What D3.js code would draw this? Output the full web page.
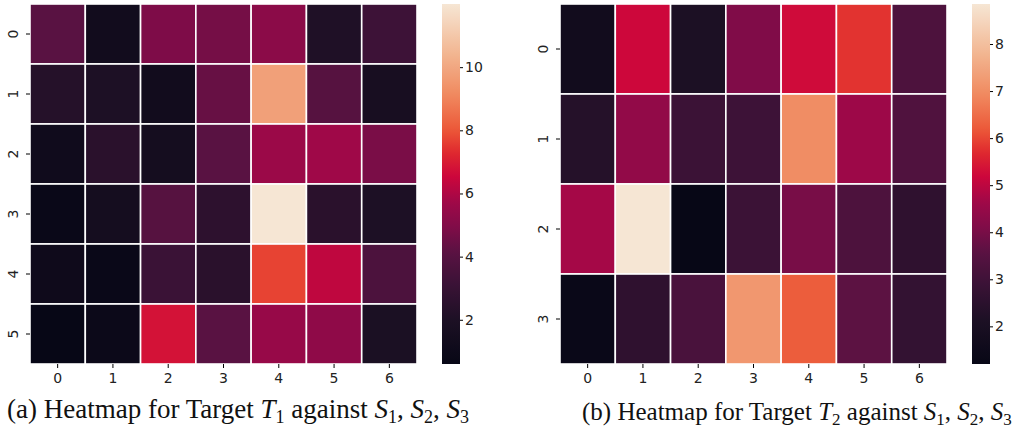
<!DOCTYPE html>
<head>
    <meta charset="utf-8"/>
    <script src="https://d3js.org/d3.v7.min.js"></script>
    <style>
        body { margin: 0; background: #fff; }
        text { font-family: "DejaVu Sans", sans-serif; }
        .cap { font-family: "Liberation Serif", "Times New Roman", serif; }
    </style>
</head>
<body>
<script>
    var width = 1019, height = 435;

    // rocket-like colormap
    var cmapPos = [0, 0.12, 0.22, 0.31, 0.38, 0.45, 0.52, 0.59, 0.65, 0.75, 0.86, 1];
    var cmapCol = ["#070716", "#1c1024", "#3a1236", "#5a1242", "#800c48", "#a00848",
        "#cc063c", "#e02a2e", "#ec5838", "#f08a60", "#f2b590", "#f6e6d4"];

    // panel (a): target T1, 6 rows x 7 cols
    var rowsA = ["0", "1", "2", "3", "4", "5"];
    var colsA = ["0", "1", "2", "3", "4", "5", "6"];
    var valuesA = [
        [4.1, 1.3, 4.9, 4.7, 5.2, 2.1, 3.2],
        [2.3, 2.0, 1.3, 4.4, 9.8, 4.0, 1.7],
        [1.2, 2.5, 1.5, 4.1, 5.6, 5.7, 4.8],
        [0.8, 1.5, 4.0, 2.6, 12.0, 2.5, 2.0],
        [1.1, 0.8, 3.1, 2.5, 7.7, 6.3, 3.7],
        [0.6, 0.9, 6.8, 4.1, 5.5, 5.3, 1.9]
    ];
    var ticksA = [2, 4, 6, 8, 10];

    // panel (b): target T2, 4 rows x 7 cols
    var rowsB = ["0", "1", "2", "3"];
    var colsB = ["0", "1", "2", "3", "4", "5", "6"];
    var valuesB = [
        [1.66, 5.2, 2.1, 4.1, 5.25, 5.8, 3.3],
        [2.35, 4.4, 2.9, 2.95, 7.0, 4.6, 3.35],
        [4.7, 8.85, 1.2, 2.9, 4.0, 3.3, 2.6],
        [1.35, 2.6, 3.2, 7.2, 6.25, 3.6, 2.7]
    ];
    var ticksB = [2, 3, 4, 5, 6, 7, 8];

    var svg = d3.select("body").append("svg")
        .attr("width", width)
        .attr("height", height);

    var defs = svg.append("defs");
    var interp = d3.scaleLinear().domain(cmapPos).range(cmapCol)
        .interpolate(d3.interpolateRgb).clamp(true);

    function heatmap(id, opts, rows, cols, values, ticks) {
        var g = svg.append("g");
        var flat = d3.merge(values);
        var color = d3.scaleSequential(interp).domain(d3.extent(flat));

        var x = d3.scaleBand().domain(cols).range([opts.x0, opts.x1]);
        var y = d3.scaleBand().domain(rows).range([opts.y0, opts.y1]);

        var cells = [];
        values.forEach(function (row, i) {
            row.forEach(function (v, j) {
                cells.push({r: rows[i], c: cols[j], v: v});
            });
        });

        g.selectAll("rect.cell").data(cells).join("rect")
            .attr("class", "cell")
            .attr("x", function (d) { return x(d.c); })
            .attr("y", function (d) { return y(d.r); })
            .attr("width", x.bandwidth())
            .attr("height", y.bandwidth())
            .attr("fill", function (d) { return color(d.v); })
            .attr("stroke", "#fff")
            .attr("stroke-width", 1.6);

        // x axis
        var xa = g.append("g").attr("transform", "translate(0," + opts.y1 + ")")
            .call(d3.axisBottom(x).tickSize(4).tickPadding(5));
        xa.select(".domain").remove();
        xa.selectAll("text").attr("font-size", 14).attr("fill", "#222")
            .style("font-family", "DejaVu Sans, sans-serif");

        // y axis, labels rotated
        var ya = g.append("g").attr("transform", "translate(" + opts.x0 + ",0)")
            .call(d3.axisLeft(y).tickSize(4).tickPadding(6));
        ya.select(".domain").remove();
        ya.selectAll("text").attr("font-size", 14).attr("fill", "#222")
            .style("font-family", "DejaVu Sans, sans-serif")
            .attr("text-anchor", "middle")
            .attr("dy", null)
            .attr("x", null)
            .attr("transform", "translate(-16,0) rotate(-90)")
            .attr("dominant-baseline", "middle");

        // colorbar
        var cb = d3.scaleLinear().domain(color.domain()).range([opts.y1, opts.y0]);
        var grad = defs.append("linearGradient").attr("id", id)
            .attr("x1", 0).attr("y1", 1).attr("x2", 0).attr("y2", 0);
        d3.range(0, 1.0001, 0.02).forEach(function (t) {
            grad.append("stop").attr("offset", t).attr("stop-color", interp(t));
        });
        g.append("rect")
            .attr("x", opts.cbx).attr("y", opts.y0)
            .attr("width", 18).attr("height", opts.y1 - opts.y0)
            .attr("fill", "url(#" + id + ")");
        var ca = g.append("g").attr("transform", "translate(" + (opts.cbx + 18) + ",0)")
            .call(d3.axisRight(cb).tickValues(ticks).tickSize(3).tickPadding(2));
        ca.select(".domain").remove();
        ca.selectAll("text").attr("font-size", 14).attr("fill", "#222")
            .style("font-family", "DejaVu Sans, sans-serif");

        // caption
        var fs = opts.capSize, sub = Math.round(fs * 0.68);
        var cap = svg.append("text").attr("class", "cap")
            .attr("x", opts.capx).attr("y", opts.capy)
            .attr("font-size", fs).attr("fill", "#111");
        cap.append("tspan").text(opts.label + " Heatmap for Target ");
        cap.append("tspan").attr("font-style", "italic").text("T");
        cap.append("tspan").attr("font-size", sub).attr("dy", 5).text(opts.t);
        cap.append("tspan").attr("dy", -5).text(" against ");
        [1, 2, 3].forEach(function (k, i) {
            cap.append("tspan").attr("font-style", "italic").text("S");
            cap.append("tspan").attr("font-size", sub).attr("dy", 5).text(k);
            cap.append("tspan").attr("dy", -5).text(i < 2 ? ", " : "");
        });
    }

    heatmap("gradA", {x0: 30, x1: 417, y0: 4, y1: 364, cbx: 442, capx: 7, capy: 418, capSize: 27,
        label: "(a)", t: "1"}, rowsA, colsA, valuesA, ticksA);
    heatmap("gradB", {x0: 560, x1: 947, y0: 4, y1: 364, cbx: 972, capx: 582, capy: 420, capSize: 25,
        label: "(b)", t: "2"}, rowsB, colsB, valuesB, ticksB);
</script>
</body>
